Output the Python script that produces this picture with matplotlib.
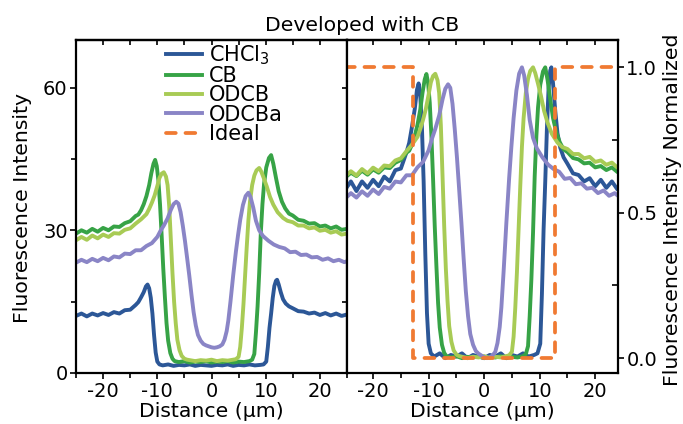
import numpy as np
import matplotlib
matplotlib.use("Agg")
import matplotlib.pyplot as plt
from matplotlib.ticker import MultipleLocator

plt.rcParams["font.family"] = ["DejaVu Sans"]
plt.rcParams["axes.unicode_minus"] = False

# ---------------- data ----------------
chcl3_x = [-25, -24, -23, -22, -21, -20, -19, -18, -17, -16, -15, -14, -13.5, -13, -12.5,
           -12.1, -11.8, -11.5, -11.2, -10.9, -10.6, -10.3, -10.0, -9.6, -9, -8, -7, -6, -5,
           -4, -3, -2, -1, 0, 1, 2, 3, 4, 5, 6, 7, 8, 9, 9.6, 10.1, 10.4, 10.7, 11.0, 11.3,
           11.6, 11.9, 12.1, 12.4, 12.8, 13.2, 13.7, 14.3, 15, 16, 17, 18, 19, 20, 21, 22,
           23, 24, 25]
chcl3_y = [12.0, 12.5, 11.9, 12.5, 12.1, 12.6, 12.2, 12.8, 12.5, 13.2, 13.3, 14.3, 14.9, 15.9, 17.0,
           18.2, 18.6, 17.8, 15.8, 12.5, 8.0, 4.3, 2.4, 1.8, 1.6, 1.8, 1.5, 1.7, 1.6,
           1.8, 1.5, 1.7, 1.6, 1.5, 1.7, 1.6, 1.8, 1.5, 1.7, 1.6, 1.8, 1.6, 1.7, 1.8, 2.4, 5.5, 9.5, 12.5, 15.8,
           18.3, 19.4, 19.6, 18.6, 16.9, 15.5, 14.6, 14.0, 13.6, 13.0, 12.9, 12.5, 12.7, 12.2, 12.6, 12.1,
           12.5, 12.0, 12.3]

cb_x = [-25, -24, -23, -22, -21, -20, -19, -18, -17, -16, -15, -14, -13.5, -13, -12.5, -12,
        -11.5, -11.1, -10.7, -10.4, -10.1, -9.8, -9.5, -9.2, -8.9, -8.6, -8.3, -8.0, -7.6,
        -7.2, -6.8, -6, -5, -4, -3, -2, -1, 0, 1, 2, 3, 4, 5, 6, 7, 7.5, 7.9, 8.2, 8.5, 8.8,
        9.1, 9.4, 9.7, 10.1, 10.6, 11.0, 11.4, 11.9, 12.4, 13.0, 13.6, 14.3, 15, 16, 17, 18,
        19, 20, 21, 22, 23, 24, 25]
cb_y = [29.3, 30.0, 29.5, 30.3, 29.7, 30.5, 30.0, 30.8, 30.7, 31.5, 31.9, 33.0, 33.3, 34.2, 35.5, 37.2,
        39.5, 42.0, 44.0, 44.8, 43.5, 40.5, 35.5, 29.0, 22.0, 16.0, 10.5, 6.8, 4.2,
        3.0, 2.5, 2.3, 2.5, 2.2, 2.4, 2.3, 2.5, 2.2, 2.4, 2.3, 2.5, 2.2, 2.4, 2.3, 2.5, 2.8, 4.0, 8.5, 14.0, 21.0,
        29.5, 35.5, 39.8, 43.2, 45.2, 45.8, 44.0, 41.0, 38.2, 36.0, 34.6, 33.5, 33.1, 32.2, 32.0, 31.4,
        31.5, 30.8, 31.0, 30.4, 30.8, 30.1, 30.3]

odcb_x = [-25, -24, -23, -22, -21, -20, -19, -18, -17, -16, -15, -14, -13, -12, -11.5, -11,
          -10.5, -10, -9.6, -9.2, -8.8, -8.4, -8.1, -7.8, -7.5, -7.2, -6.9, -6.6, -6.3, -5.9,
          -5.5, -5.0, -4.5, -4, -3, -2, -1, 0, 1, 2, 3, 4, 4.5, 5.0, 5.3, 5.6, 5.9, 6.2, 6.5,
          6.8, 7.1, 7.5, 7.9, 8.3, 8.8, 9.2, 9.7, 10.2, 10.8, 11.4, 12.2, 13.2, 14, 15, 16, 17,
          18, 19, 20, 21, 22, 23, 24, 25]
odcb_y = [27.9, 28.6, 28.0, 28.9, 28.3, 29.1, 28.6, 29.4, 29.3, 30.1, 30.4, 31.4, 32.3, 33.4, 34.5, 35.8,
          37.3, 39.3, 41.0, 41.9, 42.2, 41.3, 39.5, 35.0, 28.0, 21.0, 15.0, 10.5, 7.0, 4.8,
          3.6, 3.0, 2.8, 2.7, 2.5, 2.7, 2.6, 2.8, 2.5, 2.7, 2.6, 2.8, 2.9, 3.4, 5.5, 9.5, 14.5, 20.5, 26.5,
          32.0, 36.0, 39.5, 41.5, 42.6, 43.1, 42.3, 40.8, 39.2, 37.0, 35.4, 33.8, 32.6, 32.0, 31.7, 31.0, 31.0,
          30.4, 30.6, 29.9, 30.1, 29.5, 29.8, 29.1, 29.3]

odcba_x = [-25, -24, -23, -22, -21, -20, -19, -18, -17, -16, -15, -14, -13, -12, -11, -10,
           -9.4, -8.8, -8.1, -7.5, -7.0, -6.5, -6.1, -5.7, -5.3, -4.9, -4.5, -4.1, -3.7, -3.3,
           -2.9, -2.5, -2.0, -1.5, -1.0, -0.5, 0, 0.5, 1.0, 1.5, 2.0, 2.4, 2.8, 3.1, 3.5, 4.0,
           4.5, 4.9, 5.3, 5.8, 6.3, 6.8, 7.2, 7.7, 8.2, 8.8, 9.5, 10.5, 11.5, 12.5, 13.5, 14.5,
           15.5, 16.5, 17.5, 18.5, 19.5, 20.5, 21.5, 22.5, 23.5, 24.5, 25]
odcba_y = [23.2, 23.8, 23.3, 24.0, 23.5, 24.2, 23.7, 24.5, 24.3, 25.1, 25.0, 25.8, 25.8, 26.7, 27.3, 28.6,
           29.9, 31.0, 32.5, 34.3, 35.5, 36.0, 35.6, 33.8, 31.0, 27.8, 24.2, 20.5, 16.5, 12.8,
           10.0, 8.0, 6.8, 6.1, 5.8, 5.6, 5.4, 5.3, 5.4, 5.6, 6.0, 7.0, 8.8, 11.0, 15.0, 20.5,
           25.5, 29.0, 32.2, 35.3, 37.2, 37.9, 37.0, 34.8, 32.0, 30.0, 28.8, 27.8, 27.0, 26.5, 26.2, 25.4,
           25.5, 24.8, 24.9, 24.3, 24.4, 23.8, 24.1, 23.5, 23.8, 23.3, 23.5]

ideal_x = [-25, -12.8, -12.8, 12.8, 12.8, 25]
ideal_y = [1, 1, 0, 0, 1, 1]

labels = ["CHCl$_3$", "CB", "ODCB", "ODCBa"]
colors = ["#2c5797", "#37a346", "#a8cb55", "#8a85c6"]
ideal_color = "#f07a32"

series = [(chcl3_x, chcl3_y), (cb_x, cb_y), (odcb_x, odcb_y), (odcba_x, odcba_y)]


def norm(y):
    y = np.asarray(y, dtype=float)
    return (y - y.min()) / (y.max() - y.min())


# ---------------- figure ----------------
W, H = 683, 424
fig = plt.figure(figsize=(W / 100, H / 100), dpi=100)
ax1 = fig.add_axes([76 / W, 51 / H, 271 / W, 333 / H])
ax2 = fig.add_axes([347 / W, 51 / H, 271 / W, 333 / H])

lw = 2.8
handles = []
for (x, y), lab, c in zip(series, labels, colors):
    h, = ax1.plot(x, y, color=c, lw=lw, label=lab)
    handles.append(h)
    ax2.plot(x, norm(y), color=c, lw=lw)
hi, = ax2.plot(ideal_x, ideal_y, color=ideal_color, lw=2.7, ls=(0, (2.6, 2.6)),
               dash_capstyle="round", label="Ideal")
handles.append(hi)

FS_TICK = 14
FS_LAB = 14.7
FS_LEG = 15
for ax in (ax1, ax2):
    for s in ax.spines.values():
        s.set_linewidth(1.6)
    ax.xaxis.set_major_locator(MultipleLocator(10))
    ax.xaxis.set_minor_locator(MultipleLocator(5))
    ax.tick_params(axis="x", which="both", direction="out", top=False, labelsize=FS_TICK,
                   width=1.2, pad=2)
    ax.tick_params(axis="x", which="major", length=4.5)
    ax.tick_params(axis="x", which="minor", length=3.5)
    ax.set_xlabel("Distance (\u03bcm)", fontsize=FS_LAB, labelpad=1)
    top = ax.secondary_xaxis("top")
    top.xaxis.set_major_locator(MultipleLocator(10))
    top.xaxis.set_minor_locator(MultipleLocator(5))
    top.tick_params(which="both", direction="in", length=3.5, width=1.2, labeltop=False)
    top.spines["top"].set_linewidth(1.6)

# left panel
ax1.set_xlim(-25, 25)
ax1.set_ylim(0, 70)
ax1.yaxis.set_major_locator(MultipleLocator(30))
ax1.yaxis.set_minor_locator(MultipleLocator(15))
ax1.tick_params(axis="y", which="both", direction="out", right=False, labelsize=FS_TICK,
                width=1.2, pad=2)
ax1.tick_params(axis="y", which="major", length=4)
ax1.tick_params(axis="y", which="minor", length=3.5)
rt = ax1.secondary_yaxis("right")
rt.yaxis.set_major_locator(MultipleLocator(30))
rt.yaxis.set_minor_locator(MultipleLocator(15))
rt.tick_params(which="both", direction="inout", length=7, width=1.2, labelright=False)

# right panel
ax2.set_xlim(-24.7, 24.1)
ax2.set_ylim(-0.051, 1.094)
ax2.yaxis.tick_right()
ax2.yaxis.set_major_locator(MultipleLocator(0.5))
ax2.yaxis.set_minor_locator(MultipleLocator(0.25))
ax2.yaxis.set_major_formatter(plt.FormatStrFormatter("%.1f"))
ax2.tick_params(axis="y", which="major", direction="out", length=4, width=1.2,
                left=False, right=True, labelsize=FS_TICK, pad=2)
ax2.tick_params(axis="y", which="minor", direction="in", length=4, width=1.2,
                left=False, right=True)

fig.text(23 / W, 1 - 208 / H, "Fluorescence Intensity", rotation=90,
         ha="center", va="center", fontsize=FS_LAB)
fig.text(673 / W, 1 - 210 / H, "Fluorescence Intensity Normalized", rotation=90,
         ha="center", va="center", fontsize=FS_LAB)
fig.text(362 / W, 1 - 31 / H, "Developed with CB", ha="center", va="baseline", fontsize=FS_LAB)

ax1.legend(handles=handles, loc="upper left", bbox_to_anchor=(166 / W, 1 - 43 / H),
           bbox_transform=fig.transFigure, frameon=False, borderpad=0, fontsize=FS_LEG,
           handlelength=1.75, handletextpad=0.3, labelspacing=-0.03, borderaxespad=0)

fig.savefig("out.png", dpi=100)
